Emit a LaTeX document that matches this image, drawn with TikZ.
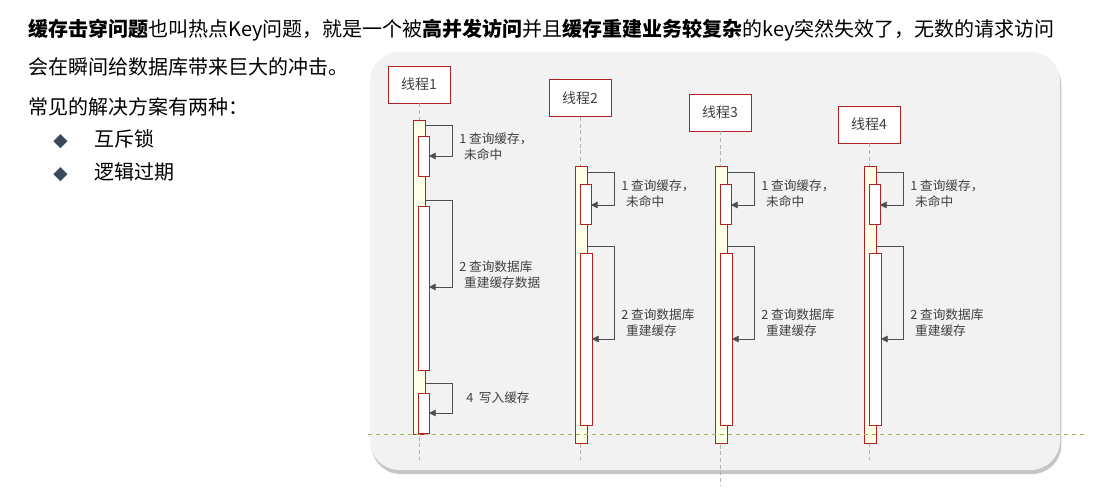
\documentclass[tikz,border=0pt]{standalone}
\usepackage{fontspec}
\setmainfont{Noto Sans CJK SC}
\newfontfamily\sym{DejaVu Sans}
\usetikzlibrary{arrows.meta,shadows}
\definecolor{boxred}{HTML}{B22222}
\definecolor{barfill}{HTML}{FFFFE8}
\definecolor{panel}{HTML}{F2F2F2}
\definecolor{msg}{HTML}{4A4F52}
\definecolor{olive}{HTML}{9BBB59}
\definecolor{bullet}{HTML}{3A4A5A}
\tikzset{
  thread/.style={draw=boxred, fill=white, minimum width=46.5pt, minimum height=28pt, font=\fontsize{10.5}{12}\selectfont, text=black!75},
  life/.style={draw=gray!60, dash pattern=on 3pt off 2pt, thin},
  bar/.style={draw=boxred, fill=barfill, semithick},
  act/.style={draw=boxred, fill=white, semithick},
  call/.style={draw=msg, semithick, -{Triangle[length=5pt,width=5pt]}},
  lbl/.style={anchor=north west, align=left, font=\fontsize{9.5}{12}\selectfont, text=black!75, inner sep=0pt},
  txt/.style={anchor=west, inner sep=0pt, font=\fontsize{15}{16}\selectfont}
}
\begin{document}
\begin{tikzpicture}[x=0.75pt,y=-0.75pt]
\useasboundingbox (0,0) rectangle (1112,487);
% text
\node[txt] (l1) at (28,30) {\textbf{缓存击穿问题}也叫热点Key问题，就是一个被\textbf{高并发访问}并且\textbf{缓存重建业务较复杂}的key突然失效了，无数的请求访问};
\node[txt] (l2) at (28,67) {会在瞬间给数据库带来巨大的冲击。};
\node[txt] (l3) at (28,107) {常见的解决方案有两种：};
\node[txt] (b1) at (53,139) {{\sym\color{bullet}\fontsize{14}{12}\selectfont ◆}\hspace{20pt}互斥锁};
\node[txt] (b2) at (53,172) {{\sym\color{bullet}\fontsize{14}{12}\selectfont ◆}\hspace{20pt}逻辑过期};
% panel
\fill[panel, rounded corners=22pt, drop shadow={shadow xshift=1pt, shadow yshift=-3pt, fill=black!45}] (370,52) rectangle (1060,470);
% threads: x, box top, box bottom
\foreach \n/\x/\t/\b in {1/419/66/103, 2/580/79/117, 3/720/94/131, 4/869/106/143}{
  \node[thread] (T\n) at (\x,{(\t+\b)/2}) {线程\n};
  \draw[life] (T\n.south) -- (\x,{\n==3 ? 485 : 460});
}
% thread 1
\draw[bar] (413,120) rectangle (425,434);
\draw[act] (418,136) rectangle (429,176);
\draw[act] (418,206) rectangle (429,370);
\draw[act] (418,393) rectangle (429,433);
\coordinate (a1) at (425,125); \coordinate (e1) at (429,156);
\coordinate (a2) at (425,200); \coordinate (e2) at (429,287);
\coordinate (a4) at (425,383); \coordinate (e4) at (429,413);
\draw[call] (a1) -| (452,156) -- (e1);
\draw[call] (a2) -| (452,287) -- (e2);
\draw[call] (a4) -| (452,413) -- (e4);
\node[lbl] (m11) at (459,133) {1 查询缓存，\\\ \,未命中};
\node[lbl] (m12) at (459,261) {2 查询数据库\\\ \,重建缓存数据};
\node[lbl] (m14) at (466,392) {4\ \ 写入缓存};
% threads 2-4
\foreach \n/\x in {2/580, 3/720, 4/869}{
  \draw[bar] (\x-5,166) rectangle (\x+7,443);
  \draw[act] (\x,184) rectangle (\x+11,224);
  \draw[act] (\x,253) rectangle (\x+12,425);
  \draw[call] (\x+7,172) -| (\x+34,205) -- (\x+11,205);
  \draw[call] (\x+7,246) -| (\x+34,339) -- (\x+12,339);
  \node[lbl] (m\n1) at (\x+41,180) {1 查询缓存，\\\ \,未命中};
  \node[lbl] (m\n2) at (\x+41,309) {2 查询数据库\\\ \,重建缓存};
}
% timeout line
\draw[olive, dashed] (368,434) -- (1085,434);
\end{tikzpicture}
\end{document}
